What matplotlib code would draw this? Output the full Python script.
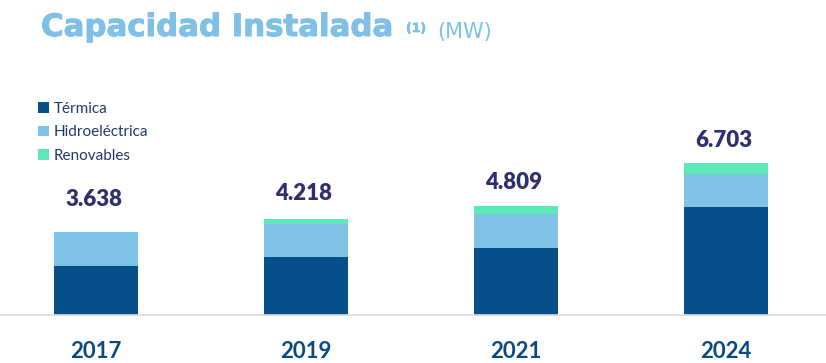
import matplotlib.pyplot as plt
import matplotlib.patheffects as pe

# data (MW)
years = ['2017', '2019', '2021', '2024']
termica = [2160, 2542, 2960, 4765]
hidro = [1478, 1470, 1470, 1450]
renovables = [0, 206, 379, 488]
totales = ['3.638', '4.218', '4.809', '6.703']

c_term = '#05508a'
c_hidro = '#80c2e6'
c_renov = '#5de8b9'
c_title = '#7fc0e6'
c_label = '#2e2f6e'
c_year = '#0b4a80'

W, H = 826, 363
fig = plt.figure(figsize=(W / 100, H / 100), dpi=100)
plt.rcParams['font.family'] = ['Lato', 'DejaVu Sans']


def fx(x):
    return x / W


def fy(y):
    return 1 - y / H


# axes: bottom at pixel row 315, bar i centred at 96 + 210*i
ax = fig.add_axes([0, fy(315), 1, fy(0) - fy(315)])
px_per_mw = 1 / 44.0
ax.set_xlim(-96 / 210, (W - 96) / 210)
ax.set_ylim(0, 315 / px_per_mw)

x = range(len(years))
bottom2 = [t + h for t, h in zip(termica, hidro)]
b1 = ax.bar(x, termica, width=0.4, color=c_term, label='Térmica')
b2 = ax.bar(x, hidro, width=0.4, bottom=termica, color=c_hidro, label='Hidroeléctrica')
b3 = ax.bar(x, renovables, width=0.4, bottom=bottom2, color=c_renov, label='Renovables')

for s in ['top', 'right', 'left']:
    ax.spines[s].set_visible(False)
ax.spines['bottom'].set_color('#d9d9d9')
ax.spines['bottom'].set_linewidth(1.2)
ax.set_yticks([])
ax.set_xticks(list(x))
ax.set_xticklabels(years, fontsize=16, fontweight='bold', color=c_year)
ax.tick_params(axis='x', length=0, pad=19)

# total labels above bars (gap in pixels)
label_pad = [22, 15, 13, 12]
for i, lab in enumerate(totales):
    top = termica[i] + hidro[i] + renovables[i]
    ax.annotate(lab, (i, top), xytext=(-2, label_pad[i]), textcoords='offset pixels',
                ha='center', va='bottom', fontsize=16, fontweight='heavy', color=c_label)

# title (wide geometric face in the original -> DejaVu Sans Bold, slightly thickened)
heavy = [pe.withStroke(linewidth=0.7, foreground=c_title)]
title = fig.text(fx(41), fy(36), 'Capacidad Instalada', fontsize=21, fontweight='bold',
                 family='DejaVu Sans', color=c_title, va='baseline', path_effects=heavy)
r = fig.canvas.get_renderer()
w = title.get_window_extent(r).width
title.set_fontsize(21 * 352 / w)
fig.text(fx(406), fy(32), '(1)', fontsize=9, fontweight='bold', family='DejaVu Sans',
         color=c_title, va='baseline',
         path_effects=[pe.withStroke(linewidth=0.5, foreground=c_title)])
fig.text(fx(437), fy(38), '(MW)', fontsize=15, family='DejaVu Sans', color=c_title,
         va='baseline')

ax.legend(handles=[b1, b2, b3], loc='upper left', bbox_to_anchor=(fx(38), fy(102)),
          bbox_transform=fig.transFigure, frameon=False, fontsize=11,
          handlelength=0.7, handleheight=0.7, handletextpad=0.35,
          labelspacing=0.62, borderaxespad=0, borderpad=0, labelcolor='#1f3a6a')

fig.savefig('out.png', dpi=100)
